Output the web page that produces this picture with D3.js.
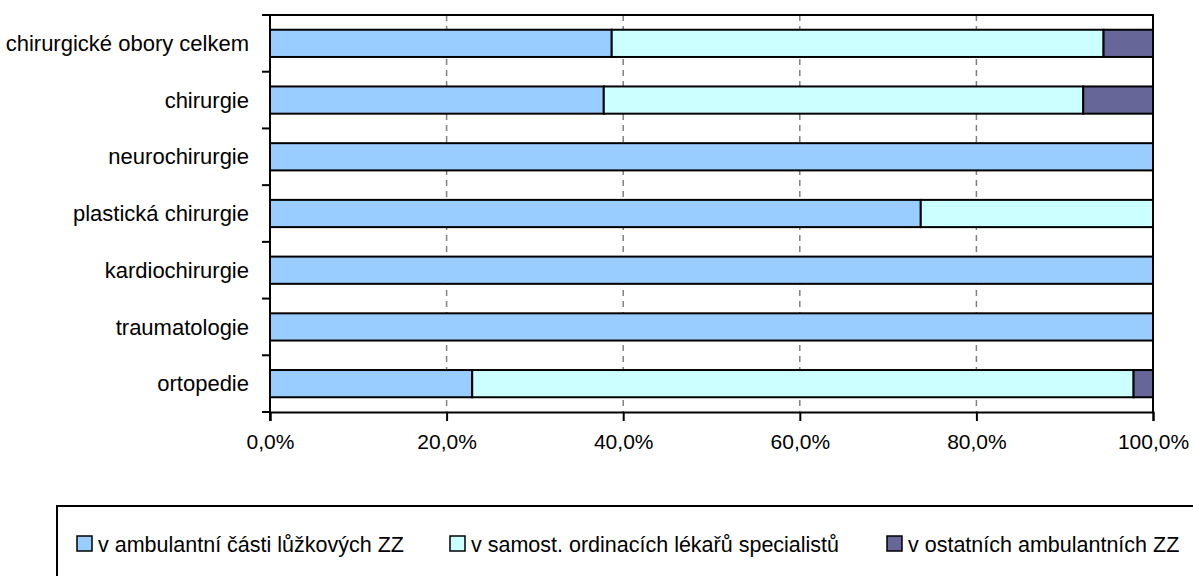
<!DOCTYPE html>
<html>
<head>
<meta charset="utf-8">
<style>
  body { margin: 0; background: #fff; }
  text { font-family: "Liberation Sans", Arial, sans-serif; fill: #000; }
  .grid line { stroke: #808080; stroke-dasharray: 6,5; stroke-width: 1.5px; }
  .bar { stroke: #000; stroke-width: 2px; }
</style>
</head>
<body>
<div id="chart"></div>
<script src="https://d3js.org/d3.v7.min.js"></script>
<script>

// categories, top to bottom
var categories = ["chirurgické obory celkem", "chirurgie", "neurochirurgie",
  "plastická chirurgie", "kardiochirurgie", "traumatologie", "ortopedie"];

// series (percent)
var seriesNames = ["v ambulantní části lůžkových ZZ",
  "v samost. ordinacích lékařů specialistů",
  "v ostatních ambulantních ZZ"];
var lozkove   = [38.7, 37.8, 100, 73.7, 100, 100, 22.9];
var samostatne = [55.7, 54.3, 0, 26.3, 0, 0, 74.9];
var ostatni   = [5.6, 7.9, 0, 0, 0, 0, 2.2];
var colors = ["#99ccff", "#ccffff", "#666699"];

var xTicks = [0, 0.2, 0.4, 0.6, 0.8, 1.0];

var width = 1193, height = 576;
var margin = {top: 15, left: 270, right: 40, bottom: 164};
var plotW = 1153 - margin.left, plotH = 412 - margin.top;

var svg = d3.select("#chart").append("svg")
    .attr("width", width)
    .attr("height", height);

var g = svg.append("g")
    .attr("transform", "translate(" + margin.left + "," + margin.top + ")");

var x = d3.scaleLinear().domain([0, 1]).range([0, plotW]);
var y = d3.scaleBand().domain(categories).range([0, plotH]).paddingInner(0.52).paddingOuter(0.26);
var yOuter = d3.scaleBand().domain(categories).range([0, plotH]);

// table for stacking
var table = categories.map(function(c, i) {
  return {cat: c, a: lozkove[i] / 100, b: samostatne[i] / 100, c: ostatni[i] / 100};
});
var stack = d3.stack().keys(["a", "b", "c"]);
var layers = stack(table);

// dashed gridlines
g.append("g")
    .attr("class", "grid")
  .selectAll("line")
  .data(xTicks.slice(1, -1))
  .enter().append("line")
    .attr("x1", function(d) { return x(d); })
    .attr("x2", function(d) { return x(d); })
    .attr("y1", 0)
    .attr("y2", plotH);

// plot border top/right
g.append("path")
    .attr("d", "M0,0H" + plotW + "V" + plotH)
    .attr("fill", "none")
    .attr("stroke", "#000")
    .attr("stroke-width", 2);

// bars
g.selectAll(".layer")
  .data(layers)
  .enter().append("g")
    .attr("fill", function(d, i) { return colors[i]; })
  .selectAll("rect")
  .data(function(d) { return d.filter(function(s) { return s[1] - s[0] > 0; }); })
  .enter().append("rect")
    .attr("class", "bar")
    .attr("x", function(d) { return x(d[0]); })
    .attr("width", function(d) { return x(d[1]) - x(d[0]); })
    .attr("y", function(d) { return y(d.data.cat); })
    .attr("height", y.bandwidth());

// x axis
var xAxis = g.append("g")
    .attr("transform", "translate(0," + plotH + ")")
    .call(d3.axisBottom(x).tickValues(xTicks).tickSize(9).tickPadding(13)
      .tickFormat(function(d) { return d3.format(".1f")(d * 100).replace(".", ",") + "%"; }));
xAxis.select(".domain").attr("stroke-width", 2);
xAxis.selectAll(".tick line").attr("stroke-width", 2);
xAxis.selectAll("text").style("font-size", "21px").attr("font-family", null);

// y axis: ticks between categories
var yAxis = g.append("g");
yAxis.append("line")
    .attr("x1", 0).attr("x2", 0).attr("y1", 0).attr("y2", plotH + 9)
    .attr("stroke", "#000").attr("stroke-width", 2);
yAxis.selectAll(".sep")
  .data(categories.concat(["end"]))
  .enter().append("line")
    .attr("x1", -8).attr("x2", 0)
    .attr("y1", function(d, i) { return i < categories.length ? yOuter(d) : plotH; })
    .attr("y2", function(d, i) { return i < categories.length ? yOuter(d) : plotH; })
    .attr("stroke", "#000").attr("stroke-width", 2);
yAxis.selectAll(".lbl")
  .data(categories)
  .enter().append("text")
    .attr("x", -21)
    .attr("y", function(d) { return y(d) + y.bandwidth() / 2; })
    .attr("dy", "0.35em")
    .attr("text-anchor", "end")
    .style("font-size", "22px")
    .text(function(d) { return d; });

// legend
var legend = svg.append("g");
legend.append("path")
    .attr("d", "M57," + 580 + "V506H1200")
    .attr("fill", "none")
    .attr("stroke", "#000")
    .attr("stroke-width", 2);
var legendX = [77, 450, 887];
var item = legend.selectAll(".item")
  .data(seriesNames)
  .enter().append("g")
    .attr("transform", function(d, i) { return "translate(" + legendX[i] + ",536)"; });
item.append("rect")
    .attr("width", 15).attr("height", 15)
    .attr("fill", function(d, i) { return colors[i]; })
    .attr("stroke", "#000").attr("stroke-width", 1.5);
item.append("text")
    .attr("x", 21).attr("y", 8)
    .attr("dy", "0.35em")
    .style("font-size", "21.5px")
    .text(function(d) { return d; });

</script>
</body>
</html>
